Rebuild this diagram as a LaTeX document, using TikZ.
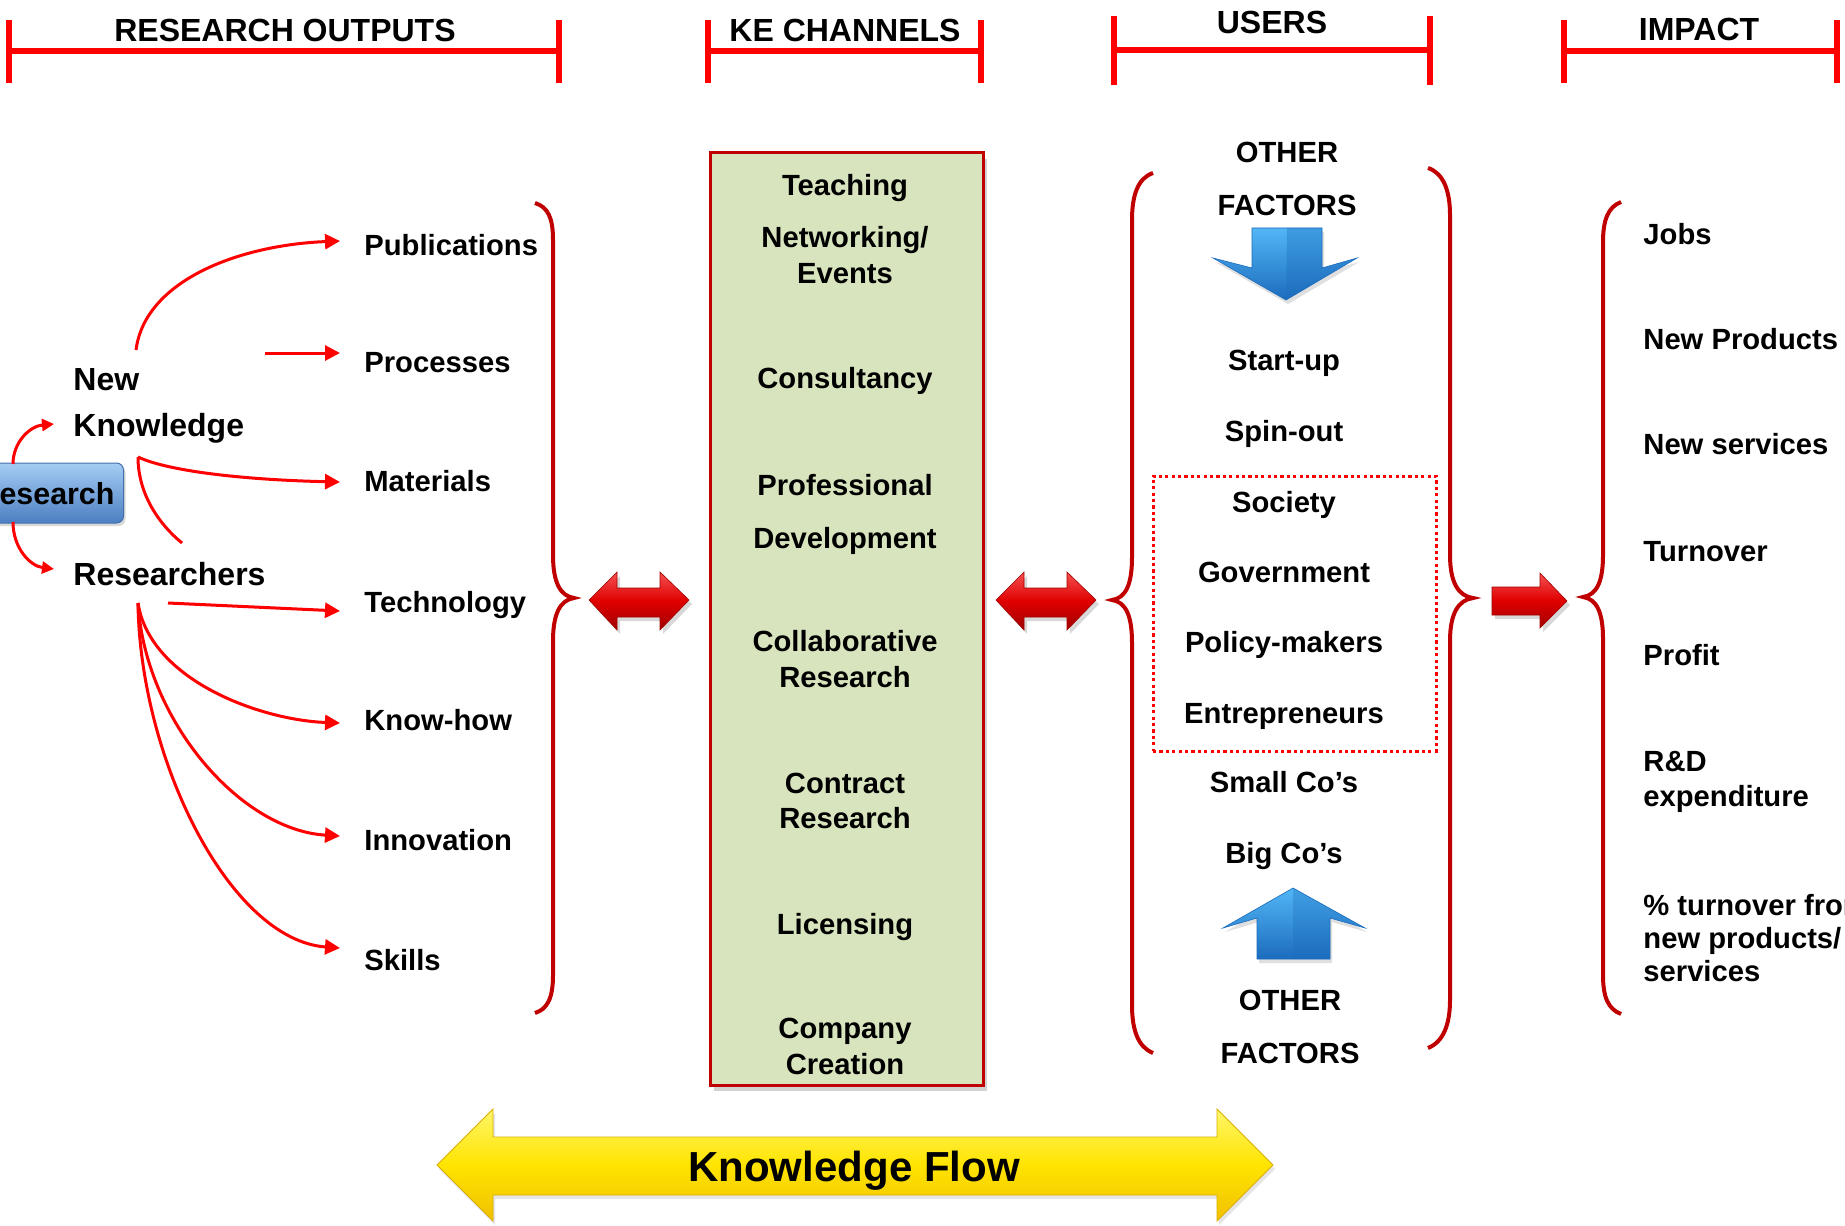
\documentclass[tikz,border=0pt]{standalone}
\usepackage{fontspec}
\setmainfont{Liberation Sans}
\usetikzlibrary{arrows.meta,calc,shadows}
\definecolor{hred}{HTML}{FF0000}
\definecolor{bred}{HTML}{C00000}
\definecolor{kegreen}{HTML}{D7E4BD}
\definecolor{resTop}{HTML}{A5CCF3}
\definecolor{resBot}{HTML}{4C7FC2}
\definecolor{resLine}{HTML}{4470AE}
\definecolor{arTop}{HTML}{F55050}
\definecolor{arMid}{HTML}{E00000}
\definecolor{arBot}{HTML}{A00000}
\definecolor{blTop}{HTML}{52B6F5}
\definecolor{blBot}{HTML}{1C6CBD}
\definecolor{ylTop}{HTML}{FFF66A}
\definecolor{ylMid}{HTML}{FFE400}
\definecolor{ylBot}{HTML}{F0C000}
\definecolor{ylLine}{HTML}{D9AE00}
\begin{document}
\begin{tikzpicture}[x=0.5pt,y=-0.5pt,
 hdr/.style={font=\fontsize{16}{19}\selectfont\bfseries,inner sep=0pt},
 hline/.style={draw=hred,line width=3pt},
 item/.style={font=\fontsize{14.6}{17.5}\selectfont\bfseries,inner sep=0pt,text height=10.5pt,text depth=0pt},
 bitem/.style={font=\fontsize{16}{19}\selectfont\bfseries,inner sep=0pt,text height=11.5pt,text depth=0pt},
 mitem/.style={font=\fontsize{14.6}{#1}\selectfont\bfseries,inner sep=0pt,align=center},
 litem/.style={font=\fontsize{14.6}{#1}\selectfont\bfseries,inner sep=0pt,align=left,anchor=west},
 rarr/.style={draw=hred,line width=1.5pt,-{Triangle[length=7.5pt,width=7.5pt]}},
 sarr/.style={draw=hred,line width=1.5pt,-{Triangle[length=6pt,width=6pt]}},
 rline/.style={draw=hred,line width=1.5pt},
 brc/.style={draw=bred,line width=2pt},
 redar/.style={top color=arTop,bottom color=arBot,middle color=arMid,draw=arBot,line width=0.3pt,drop shadow={opacity=0.3,shadow xshift=1.5pt,shadow yshift=-2pt}},
 bluar/.style={top color=blTop,bottom color=blBot,draw=blBot,line width=0.3pt,drop shadow={opacity=0.25,shadow xshift=1pt,shadow yshift=-2pt}},
 resbox/.style={font=\fontsize{15.2}{18}\selectfont\bfseries,inner xsep=4.5pt,inner ysep=0pt,minimum height=30pt,rounded corners=3.5pt,top color=resTop,bottom color=resBot,draw=resLine,line width=0.5pt,drop shadow={opacity=0.3,shadow xshift=1pt,shadow yshift=-1.5pt},text height=11pt,text depth=0pt},
 kebox/.style={draw=bred,line width=1.5pt,fill=kegreen,inner sep=0pt,drop shadow={opacity=0.35,shadow xshift=2pt,shadow yshift=-3pt}},
 dotbox/.style={draw=hred,line width=1.5pt,dash pattern=on 1.6pt off 1.6pt,inner sep=0pt}
]
\useasboundingbox (0,0) rectangle (1845,1225);
\clip (0,0) rectangle (1845,1225);
\fill[white] (0,0) rectangle (1845,1225);

% ---------- headers ----------
\draw[hline] (9,51) -- (559,51);
\draw[hline] (9,20) -- (9,83);
\draw[hline] (559,20) -- (559,83);
\node[hdr] (hRO) at (285,30) {RESEARCH OUTPUTS};

\draw[hline] (708,51) -- (981,51);
\draw[hline] (708,20) -- (708,83);
\draw[hline] (981,20) -- (981,83);
\node[hdr] (hKE) at (845,30) {KE CHANNELS};

\draw[hline] (1114,50) -- (1430,50);
\draw[hline] (1114,16) -- (1114,85);
\draw[hline] (1430,16) -- (1430,85);
\node[hdr] (hUS) at (1272,22) {USERS};

\draw[hline] (1564,51) -- (1837,51);
\draw[hline] (1564,20) -- (1564,83);
\draw[hline] (1837,20) -- (1837,83);
\node[hdr] (hIM) at (1699,29) {IMPACT};

% ---------- KE channels box ----------
\node[kebox,minimum width=136.5pt,minimum height=466pt] (ke) at (846.5,619) {};
\node[item] (teach) at (845,185) {Teaching};
\node[mitem=18pt] (netw) at (845,255) {Networking/\\Events};
\node[item] (cons) at (845,378) {Consultancy};
\node[mitem=26.5pt] (prof) at (845,514) {Professional\\Development};
\node[mitem=18pt] (collab) at (845,659) {Collaborative\\Research};
\node[mitem=17.5pt] (contr) at (845,801) {Contract\\Research};
\node[item] (lic) at (845,924) {Licensing};
\node[mitem=18pt] (comp) at (845,1046) {Company\\Creation};

% ---------- users ----------
\node[dotbox,minimum width=141.5pt,minimum height=137.5pt] (grp) at (1294.5,613.5) {};
\node[mitem=26.5pt] (ofTop) at (1287,179) {OTHER\\FACTORS};
\node[item] (startup) at (1284,360) {Start-up};
\node[item] (spin) at (1284,431) {Spin-out};
\node[item] (soc) at (1284,502) {Society};
\node[item] (gov) at (1284,572) {Government};
\node[item] (pol) at (1284,642) {Policy-makers};
\node[item] (ent) at (1284,713) {Entrepreneurs};
\node[item] (small) at (1284,782) {Small Co’s};
\node[item] (bigc) at (1284,853) {Big Co’s};
\node[mitem=26.5pt] (ofBot) at (1290,1027) {OTHER\\FACTORS};

% blue arrows
\path[bluar] (1252,228) -- (1322,228) -- (1322,268) -- (1357,258) -- (1286,300) -- (1213,258) -- (1252,268) -- cycle;
\fill[blBot,opacity=0.35] (1287,228) -- (1322,228) -- (1322,268) -- (1357,258) -- (1286,300) -- cycle;
\path[bluar] (1293,888) -- (1365,928) -- (1330,918) -- (1330,959) -- (1257,959) -- (1257,918) -- (1223,928) -- cycle;
\fill[blBot,opacity=0.3] (1293,888) -- (1365,928) -- (1330,918) -- (1330,959) -- (1293,959) -- cycle;

% ---------- impact ----------
\node[item,anchor=west] (jobs) at (1643,234) {Jobs};
\node[item,anchor=west] (newp) at (1643,339) {New Products};
\node[item,anchor=west] (news) at (1643,444) {New services};
\node[item,anchor=west] (turn) at (1643,551) {Turnover};
\node[item,anchor=west] (profit) at (1643,655) {Profit};
\node[litem=17.5pt] (rd) at (1643,782) {R\&D\\expenditure};
\node[litem=16.5pt] (pct) at (1643,938) {\% turnover from\\new products/\\services};

% ---------- braces ----------
\draw[brc] (535,203) .. controls (548,207) and (553,218) .. (553,240) -- (553,555)
  .. controls (553,582) and (560,596) .. (574,598)
  .. controls (560,600) and (553,614) .. (553,641) -- (553,975)
  .. controls (553,997) and (548,1009) .. (535,1013);
\draw[brc] (1153,173) .. controls (1138,178) and (1132,195) .. (1132,220) -- (1132,557)
  .. controls (1132,584) and (1126,598) .. (1112,600)
  .. controls (1126,602) and (1132,616) .. (1132,643) -- (1132,1005)
  .. controls (1132,1030) and (1138,1047) .. (1153,1053);
\draw[brc] (1428,168) .. controls (1443,173) and (1450,190) .. (1450,215) -- (1450,555)
  .. controls (1450,582) and (1458,596) .. (1473,598)
  .. controls (1458,600) and (1450,614) .. (1450,641) -- (1450,1000)
  .. controls (1450,1025) and (1443,1042) .. (1428,1048);
\draw[brc] (1621,202) .. controls (1608,207) and (1603,220) .. (1603,242) -- (1603,555)
  .. controls (1603,581) and (1597,595) .. (1583,597)
  .. controls (1597,599) and (1603,613) .. (1603,639) -- (1603,975)
  .. controls (1603,997) and (1608,1009) .. (1621,1014);

% ---------- red block arrows ----------
\path[redar] (589,600) -- (617,572) -- (617,588) -- (660,588) -- (660,572) -- (689,600) -- (660,630) -- (660,617) -- (617,617) -- (617,630) -- cycle;
\path[redar] (996,600) -- (1024,572) -- (1024,588) -- (1067,588) -- (1067,572) -- (1096,600) -- (1067,630) -- (1067,617) -- (1024,617) -- (1024,630) -- cycle;
\path[redar] (1492,587) -- (1540,587) -- (1540,573) -- (1567,601) -- (1540,628) -- (1540,615) -- (1492,615) -- cycle;

% ---------- knowledge flow ----------
\path[top color=ylTop,bottom color=ylBot,middle color=ylMid,draw=ylLine,line width=0.4pt,drop shadow={opacity=0.2,shadow xshift=1pt,shadow yshift=-2pt}]
  (437,1165) -- (493,1109) -- (493,1137) -- (1217,1137) -- (1217,1109) -- (1273,1165) -- (1217,1221) -- (1217,1195) -- (493,1195) -- (493,1221) -- cycle;
\node[font=\fontsize{21}{25}\selectfont\bfseries,inner sep=0pt,text height=15pt,text depth=0pt] (kf) at (854,1166) {Knowledge Flow};

% ---------- research outputs ----------
\node[resbox,anchor=east] (res) at (124,493) {Research};
\node[font=\fontsize{16}{23}\selectfont\bfseries,inner sep=0pt,align=left,anchor=west] (nk) at (73,406) {New\\Knowledge};
\node[bitem,anchor=west] (rs) at (73,574) {Researchers};

\node[item,anchor=west] (pub) at (364,245) {Publications};
\node[item,anchor=west] (proc) at (364,362) {Processes};
\node[item,anchor=west] (mat) at (364,481) {Materials};
\node[item,anchor=west] (tech) at (364,602) {Technology};
\node[item,anchor=west] (know) at (364,720) {Know-how};
\node[item,anchor=west] (innov) at (364,840) {Innovation};
\node[item,anchor=west] (skills) at (364,960) {Skills};

\coordinate (resN) at (13,464);
\coordinate (resS) at (13,522);
\coordinate (nkT) at (136,350);
\coordinate (nkB) at (138,457);
\coordinate (nkEnd) at (182,543);
\coordinate (procS) at (265,353);
\coordinate (rsB) at (138,603);
\coordinate (techS) at (168,603);

\draw[sarr] (resN) .. controls (13,442) and (30,426) .. ($(nk.west)+(-19,18)$);
\draw[sarr] (resS) .. controls (13,548) and (30,566) .. ($(rs.west)+(-19,-5)$);

\draw[rarr] (nkT) .. controls (145,280) and (240,245) .. ($(pub.west)+(-24,-4)$);
\draw[rarr] (procS) -- ($(proc.west)+(-24,-9)$);
\draw[rarr] (nkB) .. controls (170,472) and (250,480) .. ($(mat.west)+(-24,1)$);
\draw[rline] (nkB) .. controls (138,495) and (160,525) .. (nkEnd);
\draw[rarr] (techS) -- ($(tech.west)+(-24,9)$);
\draw[rarr] (rsB) .. controls (150,680) and (260,720) .. ($(know.west)+(-24,3)$);
\draw[rarr] (rsB) .. controls (145,720) and (240,830) .. ($(innov.west)+(-24,-4)$);
\draw[rarr] (rsB) .. controls (140,760) and (230,940) .. ($(skills.west)+(-24,-12)$);
\end{tikzpicture}
\end{document}
